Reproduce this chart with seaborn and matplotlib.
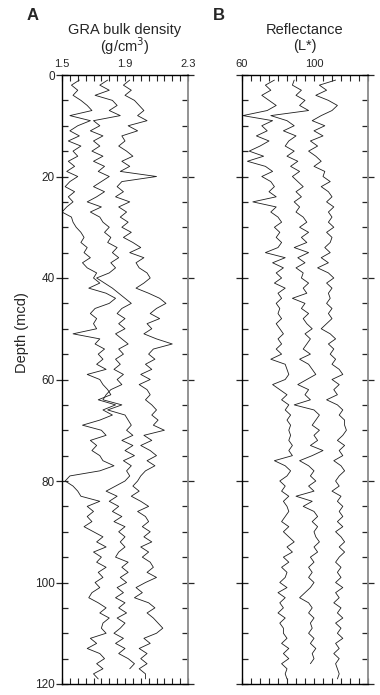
import numpy as np
import pandas as pd
import matplotlib
matplotlib.use("Agg")
import matplotlib.pyplot as plt
from matplotlib.ticker import MultipleLocator, FixedLocator
import seaborn as sns

# GRA bulk density (g/cm3), three offset holes, sampled every 1 m
gra_left = [1.61, 1.56, 1.60, 1.57, 1.62, 1.66, 1.69, 1.55, 1.68, 1.60,
            1.55, 1.61, 1.54, 1.62, 1.57, 1.60, 1.54, 1.58, 1.53, 1.60,
            1.55, 1.52, 1.58, 1.54, 1.57, 1.53, 1.50, 1.56, 1.57, 1.59,
            1.62, 1.64, 1.62, 1.66, 1.64, 1.68, 1.63, 1.66, 1.72, 1.70,
            1.74, 1.67, 1.78, 1.84, 1.80, 1.71, 1.68, 1.72, 1.70, 1.72,
            1.57, 1.74, 1.71, 1.77, 1.73, 1.76, 1.72, 1.78, 1.66, 1.74,
            1.76, 1.79, 1.81, 1.73, 1.84, 1.76, 1.82, 1.74, 1.63, 1.75,
            1.78, 1.68, 1.72, 1.69, 1.74, 1.76, 1.83, 1.74, 1.55, 1.52,
            1.57, 1.60, 1.62, 1.74, 1.66, 1.70, 1.66, 1.69, 1.64, 1.70,
            1.76, 1.72, 1.78, 1.70, 1.75, 1.72, 1.78, 1.73, 1.76, 1.71,
            1.74, 1.69, 1.67, 1.73, 1.78, 1.74, 1.80, 1.76, 1.75, 1.78,
            1.68, 1.72, 1.66, 1.74, 1.77, 1.72, 1.76, 1.70, 1.73]
gra_mid = [1.79, 1.74, 1.80, 1.71, 1.82, 1.85, 1.80, 1.87, 1.70, 1.74,
           1.68, 1.76, 1.70, 1.74, 1.69, 1.76, 1.70, 1.77, 1.73, 1.80,
           1.75, 1.70, 1.77, 1.72, 1.66, 1.75, 1.68, 1.74, 1.76, 1.80,
           1.77, 1.81, 1.79, 1.85, 1.82, 1.86, 1.81, 1.84, 1.80, 1.72,
           1.77, 1.82, 1.86, 1.90, 1.94, 1.88, 1.85, 1.90, 1.86, 1.90,
           1.84, 1.88, 1.92, 1.86, 1.89, 1.84, 1.87, 1.83, 1.89, 1.85,
           1.88, 1.81, 1.78, 1.76, 1.88, 1.79, 1.90, 1.92, 1.94, 1.91,
           1.95, 1.88, 1.95, 1.90, 1.96, 1.89, 1.94, 1.91, 1.93, 1.90,
           1.84, 1.78, 1.85, 1.80, 1.86, 1.82, 1.88, 1.83, 1.90, 1.86,
           1.90, 1.87, 1.90, 1.86, 1.84, 1.92, 1.88, 1.92, 1.87, 1.91,
           1.85, 1.89, 1.84, 1.90, 1.86, 1.91, 1.85, 1.90, 1.87, 1.83,
           1.89, 1.84, 1.90, 1.86, 1.92, 1.96, 1.93]
gra_right = [1.93, 1.89, 1.94, 1.90, 1.96, 1.99, 2.02, 1.98, 2.04, 1.92,
             1.98, 1.88, 1.90, 1.86, 1.91, 1.95, 1.88, 1.93, 1.87, 2.10,
             1.88, 1.85, 1.89, 1.84, 1.93, 1.86, 1.91, 1.87, 1.92, 1.88,
             1.94, 1.89, 1.95, 2.00, 1.93, 2.02, 1.97, 1.99, 2.04, 2.06,
             2.02, 1.97, 2.05, 2.12, 2.16, 2.10, 2.06, 2.12, 2.04, 2.07,
             2.02, 2.10, 2.20, 2.08, 2.05, 2.09, 2.03, 2.07, 2.00, 2.06,
             1.99, 2.04, 2.06, 2.03, 2.07, 2.10, 2.07, 2.11, 2.08, 2.15,
             2.02, 2.07, 2.00, 2.06, 2.10, 2.04, 2.09, 2.03, 2.00, 1.98,
             1.95, 1.99, 1.94, 2.00, 2.05, 1.98, 2.03, 2.05, 2.01, 2.06,
             2.02, 2.07, 2.00, 2.05, 2.01, 2.06, 2.08, 2.04, 2.10, 2.03,
             1.97, 2.01, 1.96, 2.05, 2.09, 2.04, 2.08, 2.11, 2.14, 2.10,
             2.02, 2.06, 1.99, 2.04, 2.00, 2.04, 1.99, 2.03, 2.03]

# Reflectance L*, three offset holes
refl_left = [78, 73, 76, 71, 75, 79, 74, 60.5, 77, 71,
             74, 68, 75, 70, 64, 72, 63, 73, 77, 71,
             76, 78, 75, 79, 66, 79, 76, 80, 82, 78,
             81, 79, 82, 80, 73, 84, 77, 83, 79, 82,
             78, 84, 80, 82, 79, 81, 80, 82, 79, 81,
             83, 80, 82, 79, 82, 76, 84, 85, 86, 84,
             77, 81, 85, 82, 86, 84, 87, 85, 87, 86,
             87, 86, 88, 86, 88, 78, 84, 87, 85, 81,
             84, 82, 86, 83, 85, 86, 84, 82, 86, 83,
             86, 89, 85, 88, 83, 86, 82, 85, 84, 81,
             85, 80, 84, 81, 83, 80, 84, 81, 83, 83,
             85, 82, 86, 83, 86, 82, 85, 84, 85]
refl_mid = [89, 88, 93, 90, 95, 92, 97, 76, 85, 89,
            83, 90, 86, 84, 89, 85, 91, 87, 92, 88,
            91, 94, 90, 93, 89, 92, 90, 94, 96, 92,
            97, 93, 96, 89, 97, 91, 95, 90, 94, 93,
            97, 94, 96, 88, 95, 93, 97, 94, 96, 99,
            95, 98, 96, 94, 98, 92, 97, 99, 101, 96,
            91, 97, 95, 98, 89, 100, 103, 101, 99, 103,
            100, 102, 98, 105, 99, 92, 97, 100, 98, 101,
            97, 100, 90, 99, 94, 100, 102, 99, 102, 100,
            101, 103, 100, 102, 98, 100, 97, 99, 97, 100,
            98, 95, 92, 97, 99, 97, 100, 98, 99, 97,
            100, 98, 101, 99, 100, 98]
refl_right = [112, 103, 107, 101, 108, 113, 110, 104, 99, 106,
              100, 105, 98, 102, 97, 101, 104, 100, 106, 105,
              109, 104, 108, 110, 107, 111, 108, 110, 108, 111,
              107, 110, 109, 106, 109, 104, 108, 102, 108, 111,
              107, 110, 108, 109, 107, 110, 108, 110, 107, 104,
              109, 112, 108, 111, 109, 112, 110, 114, 116, 110,
              114, 111, 113, 107, 113, 116, 114, 117, 117, 118,
              116, 113, 117, 114, 116, 111, 115, 117, 114, 112,
              114, 110, 115, 113, 116, 114, 116, 113, 116, 112,
              115, 117, 114, 117, 114, 112, 115, 113, 115, 112,
              116, 112, 114, 111, 115, 113, 116, 112, 115, 113,
              116, 112, 114, 111, 114, 112, 113, 114, 113]


def to_frame(traces):
    rows = []
    for name, vals in traces.items():
        depth = np.arange(1, len(vals) + 1)
        rows.append(pd.DataFrame({"hole": name, "value": vals, "depth": depth}))
    return pd.concat(rows, ignore_index=True)


gra_df = to_frame({"a": gra_left, "b": gra_mid, "c": gra_right})
refl_df = to_frame({"a": refl_left, "b": refl_mid, "c": refl_right})

sns.set_style("white")
plt.rcParams["font.family"] = ["Liberation Sans", "DejaVu Sans"]

fig = plt.figure(figsize=(3.8, 6.95), dpi=100)
axA = fig.add_axes([62 / 380, 11 / 695, 126 / 380, 609 / 695])
axB = fig.add_axes([242 / 380, 11 / 695, 126 / 380, 609 / 695])


def draw_panel(ax, df, xlim, major, minor_step):
    for hole, sub in df.groupby("hole"):
        sns.lineplot(data=sub, x="value", y="depth", sort=False, estimator=None,
                     color="#1e1e1e", lw=0.6, ax=ax, legend=False)
    ax.set_xlim(*xlim)
    ax.set_ylim(120, 0)
    ax.set_xlabel("")
    ax.set_ylabel("")
    ax.xaxis.set_major_locator(FixedLocator(major))
    ax.xaxis.set_minor_locator(MultipleLocator(minor_step))
    ax.yaxis.set_major_locator(MultipleLocator(20))
    ax.yaxis.set_minor_locator(MultipleLocator(5))
    ax.tick_params(axis="x", which="both", direction="in", top=True, bottom=True,
                   labeltop=True, labelbottom=False, length=4, width=0.8,
                   labelsize=8, pad=4)
    ax.tick_params(axis="y", which="major", direction="inout", left=True, right=True,
                   length=8, width=0.9, labelsize=8.5, pad=1)
    ax.tick_params(axis="y", which="minor", direction="in", left=True, right=True,
                   length=4, width=0.9)
    for side in ["left", "top", "bottom"]:
        ax.spines[side].set_color("black")
        ax.spines[side].set_linewidth(1.0)
    ax.spines["right"].set_color("#8a8a8a")
    ax.spines["right"].set_linewidth(1.3)


draw_panel(axA, gra_df, (1.5, 2.3), [1.5, 1.9, 2.3], 0.05)
draw_panel(axB, refl_df, (60, 130), [60, 100], 5)
axA.set_xticklabels(["1.5", "1.9", "2.3"])
axB.set_xticklabels(["60", "100"])
axB.tick_params(axis="y", labelleft=False)

fig.text(27 / 380, 1 - 16 / 695, "A", fontsize=12, fontweight="bold", va="center")
fig.text(213 / 380, 1 - 16 / 695, "B", fontsize=12, fontweight="bold", va="center")
fig.text(125 / 380, 1 - 30 / 695, "GRA bulk density", fontsize=10.5, ha="center", va="center")
fig.text(125 / 380, 1 - 46 / 695, "(g/cm$^3$)", fontsize=10.5, ha="center", va="center")
fig.text(305 / 380, 1 - 30 / 695, "Reflectance", fontsize=10.5, ha="center", va="center")
fig.text(305 / 380, 1 - 46 / 695, "(L*)", fontsize=10.5, ha="center", va="center")
fig.text(22 / 380, 1 - 333 / 695, "Depth (mcd)", fontsize=10.5, rotation=90,
         ha="center", va="center")

fig.savefig("out.png", dpi=100)
